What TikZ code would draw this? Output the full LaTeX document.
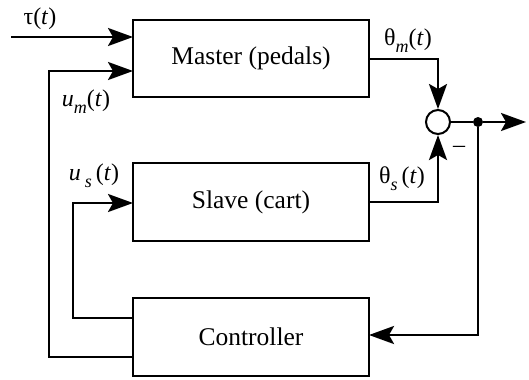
\documentclass[tikz,border=0pt]{standalone}
\usepackage{fontspec}
\setmainfont{Liberation Serif}
\usetikzlibrary{arrows.meta}
\newcommand\lsub[1]{\raisebox{-0.3em}{\fontsize{18bp}{18bp}\selectfont\textit{#1}}}
\tikzset{
  blk/.style={draw, line width=2bp, minimum width=236bp, minimum height=77bp, inner sep=0pt, font=\fontsize{25.5bp}{30bp}\selectfont},
  conn/.style={line width=2.6bp},
  arr/.style={conn, -{Stealth[length=25bp, width=18bp, inset=5bp]}},
  lbl/.style={inner sep=0pt, font=\fontsize{24bp}{28bp}\selectfont},
}
\begin{document}
\begin{tikzpicture}[x=1bp, y=-1bp]
\useasboundingbox (0,0) rectangle (529,379);
% blocks
\node[blk] (master) at (251,58.5) {Master (pedals)};
\node[blk, minimum height=78bp] (slave) at (251,202) {Slave (cart)};
\node[blk, minimum height=78bp] (ctrl) at (251,337) {Controller};
% summing junction and branch point
\node[draw, circle, line width=2bp, minimum size=24bp, inner sep=0pt] (sum) at (438,122) {};
\node[circle, fill, minimum size=10bp, inner sep=0pt] (dot) at (478,122) {};
\coordinate (out) at (526,122);
% helper coordinates
\coordinate (tauin) at (11,37);
\coordinate (tauend) at (133,37);
\coordinate (umstart) at (133,357);
\coordinate (umc1) at (49,357);
\coordinate (umc2) at (49,71);
\coordinate (umend) at (133,71);
\coordinate (usstart) at (133,318);
\coordinate (usc1) at (73,318);
\coordinate (usc2) at (73,203);
\coordinate (usend) at (133,203);
\coordinate (thm1) at (369,59);
\coordinate (thm2) at (438,59);
\coordinate (ths1) at (369,202);
\coordinate (ths2) at (438,202);
\coordinate (fb1) at (478,335);
\coordinate (fb2) at (369,335);
% connectors
\draw[arr] (tauin) -- (tauend);
\draw[arr] (umstart) -- (umc1) -- (umc2) -- (umend);
\draw[arr] (usstart) -- (usc1) -- (usc2) -- (usend);
\draw[arr] (thm1) -- (thm2) -- (sum.north);
\draw[arr] (ths1) -- (ths2) -- (sum.south);
\draw[conn] (sum.east) -- (dot);
\draw[arr] (dot) -- (out);
\draw[arr] (dot) -- (fb1) -- (fb2);
% labels
\node[lbl] (ltau) at (40,19) {τ(\textit{t})};
\node[lbl] (lum) at (86,102) {\textit{u}\lsub{m}(\textit{t})};
\node[lbl] (lus) at (94,176) {\textit{u}\,\lsub{s}\,(\textit{t})};
\node[lbl] (lthm) at (408,41) {θ\lsub{m}(\textit{t})};
\node[lbl] (lths) at (402,179) {θ\lsub{s}\,(\textit{t})};
\node[lbl] (lminus) at (459,149) {–};
\end{tikzpicture}
\end{document}
